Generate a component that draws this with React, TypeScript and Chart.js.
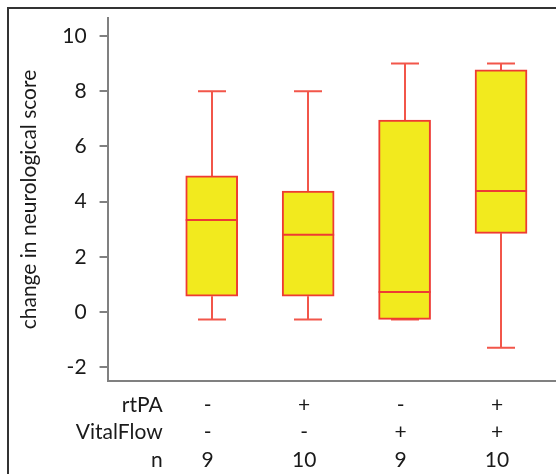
import React, { useEffect, useRef } from "react";
import { Chart, registerables } from "chart.js";
Chart.register(...registerables);

const groups = [1, 2, 3, 4];
const rtPA = ["-", "+", "-", "+"];
const vitalFlow = ["-", "-", "+", "+"];
const nValues = ["9", "10", "9", "10"];
const rowLabels = ["rtPA", "VitalFlow", "n"];
const whiskerMin = [-0.27, -0.27, -0.27, -1.3];
const q1 = [0.57, 0.57, -0.27, 2.85];
const median = [3.33, 2.8, 0.72, 4.38];
const q3 = [4.93, 4.38, 6.95, 8.77];
const whiskerMax = [8, 8, 9, 9];
const yTicks = [-2, 0, 2, 4, 6, 8, 10];

const FONT = "Lato";
const TEXT = "#1a1a1a";
const AXIS = "#808080";
const YELLOW = "#F2EA1E";
const RED = "#EE3B33";
const WHISKER = "#F2564A";

const framePlugin = {
  id: "frame",
  afterDraw(chart: any) {
    const ctx = chart.ctx;
    ctx.save();
    ctx.strokeStyle = "#333333";
    ctx.lineWidth = 2;
    ctx.beginPath();
    ctx.moveTo(8, chart.height);
    ctx.lineTo(8, 8);
    ctx.lineTo(chart.width, 8);
    ctx.stroke();
    ctx.restore();
  },
};

const boxExtras = {
  id: "boxExtras",
  beforeDatasetsDraw(chart: any) {
    const { ctx, scales } = chart;
    const x = scales.x;
    const y = scales.y;
    ctx.save();
    ctx.strokeStyle = WHISKER;
    ctx.lineWidth = 2;
    groups.forEach((g, i) => {
      const cx = Math.round(x.getPixelForValue(g));
      const capHalf = 14;
      const yMax = y.getPixelForValue(whiskerMax[i]);
      const yMin = y.getPixelForValue(whiskerMin[i]);
      ctx.beginPath();
      ctx.moveTo(cx, y.getPixelForValue(q3[i]));
      ctx.lineTo(cx, yMax);
      ctx.moveTo(cx - capHalf, yMax);
      ctx.lineTo(cx + capHalf, yMax);
      ctx.moveTo(cx, y.getPixelForValue(q1[i]));
      ctx.lineTo(cx, yMin);
      ctx.moveTo(cx - capHalf, yMin);
      ctx.lineTo(cx + capHalf, yMin);
      ctx.stroke();
    });
    ctx.restore();
  },
  afterDatasetsDraw(chart: any) {
    const { ctx, scales } = chart;
    const x = scales.x;
    const y = scales.y;
    const meta = chart.getDatasetMeta(0);
    ctx.save();
    ctx.strokeStyle = RED;
    ctx.lineWidth = 2;
    groups.forEach((g, i) => {
      const bar = meta.data[i];
      const half = bar.width / 2;
      const cx = x.getPixelForValue(g);
      const ym = y.getPixelForValue(median[i]);
      ctx.beginPath();
      ctx.moveTo(cx - half, ym);
      ctx.lineTo(cx + half, ym);
      ctx.stroke();
    });
    // table below the axis
    ctx.fillStyle = TEXT;
    ctx.font = `21px ${FONT}`;
    ctx.textBaseline = "middle";
    const rows = [rtPA, vitalFlow, nValues];
    const baseY = x.bottom + 24;
    const rowGap = 27.5;
    const labelRight = x.getPixelForValue(groups[0]) - 49;
    rows.forEach((row, r) => {
      const ty = baseY + r * rowGap;
      ctx.textAlign = "right";
      ctx.fillText(rowLabels[r], labelRight, ty);
      ctx.textAlign = "center";
      row.forEach((v, i) => {
        ctx.fillText(v, x.getPixelForValue(groups[i]) - 4, ty);
      });
    });
    ctx.restore();
  },
};

export default function App() {
  const ref = useRef<HTMLCanvasElement>(null);
  useEffect(() => {
    const chart = new Chart(ref.current as HTMLCanvasElement, {
      type: "bar",
      data: {
        datasets: [
          {
            data: groups.map((g, i) => ({ x: g, y: [q1[i], q3[i]] })) as any,
            backgroundColor: YELLOW,
            borderColor: RED,
            borderWidth: 2,
            borderSkipped: false,
            barThickness: 52,
          },
        ],
      },
      options: {
        animation: false,
        responsive: false,
        layout: { padding: { left: 0, top: 18, right: 0, bottom: 93 } },
        plugins: { legend: { display: false }, tooltip: { enabled: false } },
        scales: {
          x: {
            type: "linear",
            offset: false,
            min: -0.08,
            max: 4.57,
            ticks: { display: false },
            grid: { display: false, drawTicks: false, offset: false },
            border: { display: true, color: AXIS, width: 2 },
          },
          y: {
            min: -2.5,
            max: 10.65,
            afterBuildTicks: (scale: any) => {
              scale.ticks = yTicks.map((v) => ({ value: v }));
            },
            ticks: {
              color: TEXT,
              font: { family: FONT, size: 21, lineHeight: 0.4 },
              padding: 13,
            },
            grid: {
              display: true,
              drawOnChartArea: false,
              drawTicks: true,
              tickLength: 8,
              color: AXIS,
              lineWidth: 2,
            },
            border: { display: true, color: AXIS, width: 2 },
            title: {
              display: true,
              text: "change in neurological score",
              color: TEXT,
              font: { family: FONT, size: 21, lineHeight: 1.2 },
              padding: { top: 17, bottom: 7 },
            },
          },
        },
      },
      plugins: [boxExtras, framePlugin],
    });
    return () => chart.destroy();
  }, []);
  return (
    <div style={{ position: "fixed", left: 0, top: 0, width: 556, height: 474, background: "#fff" }}>
      <canvas ref={ref} width={556} height={474} style={{ display: "block" }} />
    </div>
  );
}
